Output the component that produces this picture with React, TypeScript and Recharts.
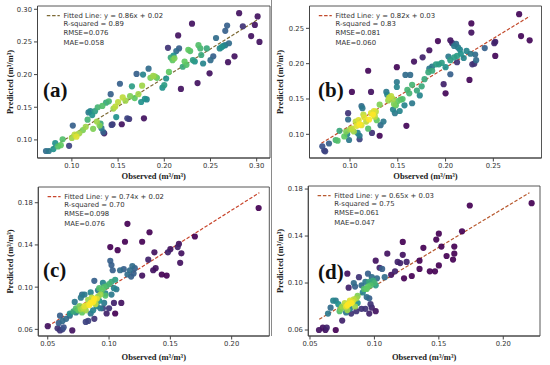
import React from 'react'
import { ScatterChart, Scatter, XAxis, YAxis, ReferenceLine, ReferenceArea, Customized } from 'recharts'

// [observed, predicted, point density 0..1]
type Pt = [number, number, number]

const pointsA: Pt[] = [
	[0.072, 0.083, 0.35], [0.075, 0.083, 0.4], [0.08, 0.086, 0.5], [0.082, 0.095, 0.5], [0.085, 0.09, 0.7],
	[0.088, 0.092, 0.75], [0.09, 0.101, 0.7], [0.097, 0.091, 0.2], [0.1, 0.103, 0.85], [0.101, 0.122, 0.3],
	[0.103, 0.108, 0.9], [0.105, 0.105, 0.95], [0.108, 0.11, 0.85], [0.112, 0.115, 0.8], [0.115, 0.12, 0.85],
	[0.117, 0.131, 0.65], [0.118, 0.142, 0.4], [0.12, 0.144, 0.45], [0.122, 0.138, 0.5], [0.123, 0.117, 0.8],
	[0.125, 0.144, 0.55], [0.127, 0.128, 0.85], [0.128, 0.15, 0.65], [0.13, 0.122, 0.8], [0.131, 0.125, 0.6],
	[0.132, 0.118, 0.4], [0.133, 0.152, 0.7], [0.134, 0.112, 0.3], [0.135, 0.11, 0.1], [0.137, 0.157, 0.6],
	[0.14, 0.159, 0.65], [0.142, 0.17, 0.3], [0.143, 0.123, 0.2], [0.144, 0.124, 0.15], [0.145, 0.148, 0.85],
	[0.147, 0.151, 0.9], [0.148, 0.135, 0.5], [0.15, 0.158, 0.9], [0.152, 0.186, 0.3], [0.154, 0.124, 0.05],
	[0.155, 0.165, 0.9], [0.158, 0.16, 0.85], [0.16, 0.133, 0.2], [0.162, 0.132, 0.15], [0.163, 0.167, 0.8],
	[0.165, 0.182, 0.55], [0.168, 0.164, 0.75], [0.17, 0.201, 0.3], [0.172, 0.17, 0.85], [0.175, 0.158, 0.5],
	[0.176, 0.183, 0.85], [0.177, 0.2, 0.45], [0.178, 0.133, 0.05], [0.179, 0.163, 0.5], [0.181, 0.162, 0.45],
	[0.183, 0.209, 0.35], [0.185, 0.195, 0.8], [0.188, 0.198, 0.85], [0.19, 0.197, 0.8], [0.192, 0.195, 0.75],
	[0.198, 0.18, 0.5], [0.2, 0.184, 0.55], [0.202, 0.194, 0.5], [0.204, 0.241, 0.15], [0.205, 0.204, 0.75],
	[0.207, 0.226, 0.6], [0.209, 0.222, 0.75], [0.21, 0.229, 0.5], [0.211, 0.225, 0.8], [0.213, 0.236, 0.35],
	[0.215, 0.26, 0.05], [0.216, 0.24, 0.3], [0.218, 0.178, 0.05], [0.22, 0.212, 0.6], [0.222, 0.22, 0.75],
	[0.224, 0.215, 0.7], [0.226, 0.238, 0.75], [0.228, 0.236, 0.7], [0.23, 0.278, 0.05], [0.231, 0.222, 0.55],
	[0.233, 0.22, 0.5], [0.236, 0.187, 0.05], [0.237, 0.245, 0.7], [0.239, 0.24, 0.65], [0.24, 0.23, 0.6],
	[0.242, 0.217, 0.45], [0.246, 0.24, 0.6], [0.249, 0.202, 0.05], [0.25, 0.222, 0.35], [0.253, 0.228, 0.3],
	[0.256, 0.256, 0.35], [0.26, 0.24, 0.45], [0.262, 0.242, 0.5], [0.264, 0.244, 0.45], [0.266, 0.245, 0.4],
	[0.266, 0.267, 0.3], [0.268, 0.275, 0.3], [0.269, 0.219, 0.05], [0.27, 0.248, 0.35], [0.276, 0.228, 0.05],
	[0.281, 0.294, 0.05], [0.285, 0.274, 0.15], [0.294, 0.259, 0.05], [0.298, 0.276, 0.05], [0.301, 0.289, 0.05],
	[0.303, 0.25, 0.05],
]

const pointsB: Pt[] = [
	[0.277, 0.27, 0.02], [0.279, 0.239, 0.02], [0.288, 0.233, 0.02], [0.227, 0.257, 0.02], [0.227, 0.244, 0.05],
	[0.252, 0.231, 0.1], [0.251, 0.229, 0.1], [0.252, 0.211, 0.02], [0.225, 0.177, 0.02], [0.205, 0.233, 0.05],
	[0.207, 0.229, 0.1], [0.192, 0.232, 0.02], [0.183, 0.219, 0.05], [0.167, 0.203, 0.05], [0.149, 0.195, 0.02],
	[0.119, 0.19, 0.02], [0.102, 0.16, 0.02], [0.122, 0.16, 0.05], [0.131, 0.098, 0.02], [0.159, 0.112, 0.02],
	[0.2, 0.158, 0.02], [0.198, 0.171, 0.1], [0.23, 0.2, 0.15], [0.228, 0.199, 0.15], [0.212, 0.202, 0.15],
	[0.176, 0.209, 0.1], [0.098, 0.13, 0.15], [0.123, 0.102, 0.15], [0.11, 0.093, 0.2], [0.073, 0.077, 0.2],
	[0.071, 0.083, 0.25], [0.074, 0.076, 0.2], [0.078, 0.087, 0.3],
	[0.241, 0.222, 0.3], [0.232, 0.205, 0.35], [0.231, 0.213, 0.35], [0.226, 0.214, 0.4], [0.222, 0.218, 0.45],
	[0.215, 0.22, 0.45], [0.213, 0.223, 0.4], [0.211, 0.228, 0.35], [0.209, 0.225, 0.4], [0.203, 0.21, 0.4],
	[0.205, 0.185, 0.3], [0.186, 0.196, 0.4], [0.183, 0.193, 0.4], [0.163, 0.184, 0.35], [0.158, 0.184, 0.35],
	[0.149, 0.174, 0.4], [0.149, 0.167, 0.45], [0.145, 0.135, 0.45], [0.147, 0.13, 0.4], [0.152, 0.133, 0.45],
	[0.157, 0.141, 0.45], [0.165, 0.144, 0.4], [0.135, 0.118, 0.4], [0.132, 0.113, 0.35], [0.11, 0.098, 0.4],
	[0.108, 0.102, 0.45], [0.112, 0.14, 0.35], [0.113, 0.137, 0.4], [0.098, 0.121, 0.35], [0.099, 0.092, 0.4],
	[0.097, 0.1, 0.45], [0.138, 0.16, 0.4], [0.139, 0.156, 0.45], [0.173, 0.155, 0.45],
	[0.085, 0.092, 0.65], [0.087, 0.091, 0.7], [0.089, 0.105, 0.6], [0.094, 0.097, 0.75], [0.096, 0.104, 0.8],
	[0.1, 0.107, 0.85], [0.102, 0.108, 0.9], [0.104, 0.104, 0.85], [0.106, 0.118, 0.9], [0.107, 0.112, 0.95],
	[0.109, 0.12, 0.95], [0.11, 0.114, 1], [0.112, 0.113, 0.95], [0.114, 0.128, 0.9], [0.115, 0.124, 0.95],
	[0.117, 0.118, 0.9], [0.119, 0.108, 0.7], [0.12, 0.121, 1], [0.122, 0.13, 0.95], [0.124, 0.128, 1],
	[0.125, 0.133, 0.95], [0.126, 0.125, 0.9], [0.127, 0.132, 0.9], [0.128, 0.12, 0.75], [0.131, 0.142, 0.8],
	[0.14, 0.148, 0.85], [0.141, 0.152, 0.9], [0.143, 0.154, 0.9], [0.145, 0.15, 0.85], [0.146, 0.143, 0.8],
	[0.148, 0.141, 0.75], [0.15, 0.147, 0.75], [0.153, 0.149, 0.7], [0.155, 0.15, 0.7], [0.16, 0.163, 0.65],
	[0.162, 0.158, 0.65], [0.165, 0.17, 0.65], [0.17, 0.162, 0.6], [0.175, 0.168, 0.6], [0.178, 0.178, 0.6],
	[0.182, 0.188, 0.6], [0.186, 0.19, 0.6], [0.19, 0.199, 0.55], [0.193, 0.199, 0.55], [0.196, 0.201, 0.55],
	[0.2, 0.195, 0.5], [0.205, 0.205, 0.55], [0.209, 0.209, 0.55], [0.212, 0.211, 0.55], [0.216, 0.214, 0.5],
	[0.219, 0.208, 0.45],
]

const pointsC: Pt[] = [
	[0.222, 0.175, 0], [0.17, 0.148, 0], [0.158, 0.123, 0.05], [0.159, 0.132, 0.05], [0.157, 0.141, 0.05],
	[0.156, 0.138, 0.1], [0.15, 0.136, 0.05], [0.148, 0.133, 0.1], [0.147, 0.111, 0], [0.143, 0.112, 0],
	[0.138, 0.118, 0.05], [0.136, 0.116, 0.05], [0.133, 0.152, 0], [0.132, 0.126, 0.1], [0.137, 0.133, 0.05],
	[0.127, 0.143, 0], [0.127, 0.111, 0.05], [0.115, 0.16, 0], [0.113, 0.143, 0], [0.107, 0.135, 0],
	[0.101, 0.138, 0], [0.105, 0.075, 0], [0.11, 0.085, 0.05], [0.104, 0.085, 0.1], [0.1, 0.08, 0.15],
	[0.098, 0.075, 0.1], [0.095, 0.08, 0.2], [0.088, 0.07, 0.15], [0.083, 0.068, 0.2], [0.081, 0.067, 0.2],
	[0.07, 0.059, 0.05], [0.05, 0.063, 0.05], [0.058, 0.061, 0.15], [0.06, 0.059, 0.15], [0.062, 0.06, 0.2],
	[0.063, 0.062, 0.25], [0.059, 0.066, 0.3], [0.06, 0.073, 0.3], [0.062, 0.068, 0.35], [0.065, 0.07, 0.35],
	[0.119, 0.12, 0.35], [0.117, 0.116, 0.35], [0.118, 0.11, 0.3], [0.112, 0.117, 0.3], [0.115, 0.112, 0.35],
	[0.109, 0.116, 0.35], [0.103, 0.116, 0.3], [0.101, 0.125, 0.3], [0.102, 0.121, 0.3], [0.12, 0.113, 0.3],
	[0.121, 0.118, 0.3], [0.106, 0.098, 0.4], [0.104, 0.099, 0.45], [0.102, 0.093, 0.4], [0.097, 0.094, 0.45],
	[0.095, 0.104, 0.45], [0.091, 0.097, 0.4], [0.088, 0.106, 0.3], [0.085, 0.095, 0.45], [0.078, 0.093, 0.35],
	[0.077, 0.09, 0.4], [0.08, 0.093, 0.4], [0.072, 0.086, 0.4], [0.096, 0.085, 0.4], [0.092, 0.087, 0.5],
	[0.093, 0.08, 0.4], [0.09, 0.082, 0.45], [0.087, 0.078, 0.45], [0.085, 0.075, 0.4], [0.073, 0.076, 0.4],
	[0.068, 0.073, 0.35],
	[0.105, 0.107, 0.55], [0.102, 0.105, 0.6], [0.1, 0.103, 0.65], [0.098, 0.101, 0.65], [0.096, 0.1, 0.7],
	[0.094, 0.097, 0.75], [0.093, 0.093, 0.85], [0.091, 0.091, 0.85], [0.09, 0.089, 0.95], [0.088, 0.089, 1],
	[0.087, 0.086, 1], [0.085, 0.085, 1], [0.084, 0.083, 1], [0.082, 0.083, 0.95], [0.08, 0.082, 0.95],
	[0.079, 0.08, 0.9], [0.077, 0.079, 0.85], [0.076, 0.082, 0.8], [0.075, 0.078, 0.75], [0.073, 0.08, 0.7],
	[0.071, 0.077, 0.6], [0.068, 0.075, 0.5], [0.083, 0.088, 0.85], [0.086, 0.09, 0.9], [0.089, 0.084, 0.9],
	[0.081, 0.078, 0.85], [0.078, 0.076, 0.75], [0.092, 0.099, 0.7], [0.097, 0.092, 0.7],
]

const pointsD: Pt[] = [
	[0.222, 0.168, 0], [0.174, 0.166, 0], [0.168, 0.144, 0], [0.162, 0.131, 0], [0.162, 0.125, 0],
	[0.161, 0.12, 0], [0.156, 0.123, 0], [0.152, 0.131, 0], [0.15, 0.142, 0], [0.148, 0.137, 0],
	[0.15, 0.115, 0], [0.147, 0.11, 0], [0.143, 0.11, 0], [0.138, 0.13, 0], [0.135, 0.119, 0],
	[0.135, 0.112, 0], [0.129, 0.106, 0], [0.123, 0.104, 0], [0.122, 0.135, 0], [0.122, 0.124, 0.05],
	[0.125, 0.118, 0.1], [0.12, 0.117, 0.1], [0.118, 0.118, 0.1], [0.116, 0.11, 0.1], [0.113, 0.107, 0.05],
	[0.11, 0.125, 0.05], [0.104, 0.113, 0.1], [0.101, 0.119, 0.05], [0.101, 0.076, 0.05], [0.098, 0.079, 0.1],
	[0.097, 0.082, 0.15], [0.096, 0.074, 0.1], [0.093, 0.078, 0.15], [0.09, 0.078, 0.15], [0.086, 0.076, 0.15],
	[0.079, 0.108, 0.05], [0.082, 0.074, 0.15], [0.075, 0.068, 0.1], [0.07, 0.06, 0], [0.062, 0.06, 0.05],
	[0.063, 0.062, 0.1], [0.06, 0.062, 0.05], [0.057, 0.06, 0.05], [0.08, 0.096, 0.1], [0.088, 0.105, 0.15],
	[0.095, 0.108, 0.3], [0.098, 0.105, 0.35], [0.102, 0.104, 0.35], [0.097, 0.1, 0.4], [0.093, 0.101, 0.4],
	[0.09, 0.098, 0.35], [0.084, 0.1, 0.35], [0.085, 0.097, 0.3], [0.091, 0.092, 0.45], [0.094, 0.088, 0.35],
	[0.096, 0.087, 0.3], [0.087, 0.083, 0.5], [0.076, 0.08, 0.45], [0.07, 0.085, 0.4], [0.068, 0.085, 0.45],
	[0.066, 0.079, 0.35], [0.064, 0.074, 0.4], [0.072, 0.082, 0.5], [0.078, 0.075, 0.4], [0.081, 0.078, 0.45],
	[0.108, 0.105, 0.35], [0.106, 0.112, 0.3],
	[0.099, 0.102, 0.6], [0.1, 0.1, 0.65], [0.097, 0.098, 0.7], [0.095, 0.097, 0.75], [0.094, 0.095, 0.75],
	[0.092, 0.095, 0.7], [0.096, 0.101, 0.6], [0.101, 0.098, 0.55], [0.087, 0.089, 0.8], [0.086, 0.087, 0.85],
	[0.084, 0.086, 0.9], [0.083, 0.084, 0.95], [0.082, 0.083, 1], [0.08, 0.082, 1], [0.079, 0.081, 1],
	[0.078, 0.08, 0.95], [0.081, 0.085, 0.95], [0.077, 0.083, 0.9], [0.075, 0.08, 0.85], [0.074, 0.078, 0.8],
	[0.073, 0.076, 0.7], [0.085, 0.08, 0.85], [0.079, 0.077, 0.85],
]

// fitted line end points, [observed start, observed end] / [predicted start, predicted end]
const fitXA = [0.073, 0.302]
const fitYA = [0.0835, 0.285]
const fitXB = [0.07, 0.288]
const fitYB = [0.0874, 0.267]
const fitXC = [0.05, 0.2226]
const fitYC = [0.0628, 0.1895]
const fitXD = [0.0572, 0.2203]
const fitYD = [0.0691, 0.1769]

const statsA = ['Fitted Line: y = 0.86x + 0.02', 'R-squared = 0.89', 'RMSE=0.076', 'MAE=0.058']
const statsB = ['Fitted Line: y = 0.82x + 0.03', 'R-squared = 0.83', 'RMSE=0.081', 'MAE=0.060']
const statsC = ['Fitted Line: y = 0.74x + 0.02', 'R-squared = 0.70', 'RMSE=0.098', 'MAE=0.076']
const statsD = ['Fitted Line: y = 0.65x + 0.03', 'R-squared = 0.75', 'RMSE=0.061', 'MAE=0.047']

const ticksA = [0.1, 0.15, 0.2, 0.25, 0.3]
const ticksBx = [0.1, 0.15, 0.2, 0.25]
const ticksBy = [0.1, 0.15, 0.2, 0.25]
const ticksCDx = [0.05, 0.1, 0.15, 0.2]
const ticksCDy = [0.06, 0.1, 0.14, 0.18]

const VIRIDIS = ['#440154', '#3b528b', '#21918c', '#5ec962', '#fde725']
const hex = (h: string) => [1, 3, 5].map(i => parseInt(h.slice(i, i + 2), 16))
function viridis(t: number) {
	const s = Math.max(0, Math.min(1, t)) * 4
	const i = Math.min(3, Math.floor(s))
	const f = s - i
	const a = hex(VIRIDIS[i])
	const b = hex(VIRIDIS[i + 1])
	return `rgb(${a.map((v, k) => Math.round(v + (b[k] - v) * f)).join(',')})`
}

const SANS = 'DejaVu Sans'
const SERIF = 'Liberation Serif'
const AXIS = '#444'
const fmt = (v: number) => v.toFixed(2)

const panels = [
	{ key: 'a', letter: '(a)', points: pointsA, fitX: fitXA, fitY: fitYA, stats: statsA, xTicks: ticksA, yTicks: ticksA,
		xDomain: [0.0628, 0.3144], yDomain: [0.0723, 0.305], fitColor: '#7d6a35',
		left: 0, top: 0, width: 275, height: 182, yW: 37.5, mTop: 6, mRight: 5, xH: 24, xTitleY: 176, letterX: 43, letterY: 90 },
	{ key: 'b', letter: '(b)', points: pointsB, fitX: fitXB, fitY: fitYB, stats: statsB, xTicks: ticksBx, yTicks: ticksBy,
		xDomain: [0.0576, 0.3004], yDomain: [0.0665, 0.2816], fitColor: '#c24a2c',
		left: 270, top: 0, width: 280, height: 182, yW: 39.5, mTop: 6, mRight: 8.5, xH: 24, xTitleY: 176, letterX: 48, letterY: 90 },
	{ key: 'c', letter: '(c)', points: pointsC, fitX: fitXC, fitY: fitYC, stats: statsC, xTicks: ticksCDx, yTicks: ticksCDy,
		xDomain: [0.0423, 0.2307], yDomain: [0.0537, 0.1949], fitColor: '#c8462d',
		left: 0, top: 182, width: 275, height: 183, yW: 38.3, mTop: 5, mRight: 5.7, xH: 29, xTitleY: 175.3, letterX: 43, letterY: 88 },
	{ key: 'd', letter: '(d)', points: pointsD, fitX: fitXD, fitY: fitYD, stats: statsD, xTicks: ticksCDx, yTicks: ticksCDy,
		xDomain: [0.0487, 0.2285], yDomain: [0.0549, 0.1826], fitColor: '#b85a30',
		left: 270, top: 182, width: 280, height: 183, yW: 38.3, mTop: 4, mRight: 10, xH: 29, xTitleY: 175.3, letterX: 48, letterY: 90 },
]

type PanelCfg = (typeof panels)[number]

const Dot = (p: any) => {
	if (p.cx == null || p.cy == null) return null
	return <circle cx={p.cx} cy={p.cy} r={3.1} fill={viridis(p.payload.d)} fillOpacity={0.92} />
}

function Annotations({ cfg }: { cfg: PanelCfg }) {
	const pl = cfg.yW
	const pt = cfg.mTop
	const pr = cfg.width - cfg.mRight
	const pb = cfg.height - cfg.xH
	const lx = pl + 9.3
	const ly = pt + 9.7
	const rows = [0, 8.3, 17.5, 27]
	return (
		<g>
			<line x1={lx} x2={lx + 13} y1={ly} y2={ly} stroke={cfg.fitColor} strokeWidth={1.2} strokeDasharray="3.5 1.8" />
			{cfg.stats.map((s, i) => (
				<text key={i} x={pl + 26} y={ly + rows[i]} dominantBaseline="central" fontFamily={SANS} fontSize={6.9} fill="#333">
					{s}
				</text>
			))}
			<text x={cfg.letterX} y={cfg.letterY} dominantBaseline="central" fontFamily={SERIF} fontWeight="bold" fontSize={21} fill="#111">
				{cfg.letter}
			</text>
			<text x={(pl + pr) / 2} y={cfg.xTitleY} textAnchor="middle" dominantBaseline="central" fontFamily={SERIF} fontWeight="bold" fontSize={8.5} fill="#222">
				Observed (m³/m³)
			</text>
			<text x={10} y={(pt + pb) / 2} transform={`rotate(-90 10 ${(pt + pb) / 2})`} textAnchor="middle" dominantBaseline="central" fontFamily={SERIF} fontWeight="bold" fontSize={8.5} fill="#222">
				Predicted (m³/m³)
			</text>
		</g>
	)
}

function Panel({ cfg }: { cfg: PanelCfg }) {
	const rows = cfg.points.map(([o, p, d]) => ({ o, p, d })).sort((a, b) => a.d - b.d)
	const tick = { fill: '#333', fontSize: 6.8, fontFamily: SANS }
	return (
		<div style={{ position: 'absolute', left: cfg.left, top: cfg.top }}>
			<ScatterChart width={cfg.width} height={cfg.height} margin={{ top: cfg.mTop, right: cfg.mRight, left: 0, bottom: 0 }}>
				<XAxis type="number" dataKey="o" domain={cfg.xDomain} ticks={cfg.xTicks} tickFormatter={fmt} allowDataOverflow
					height={cfg.xH} tickSize={3.5} tickMargin={2} stroke={AXIS} tick={tick} interval={0} />
				<YAxis type="number" dataKey="p" domain={cfg.yDomain} ticks={cfg.yTicks} tickFormatter={fmt} allowDataOverflow
					width={cfg.yW} tickSize={3.5} tickMargin={2} stroke={AXIS} tick={tick} interval={0} />
				<Scatter data={rows} isAnimationActive={false} shape={Dot} />
				<ReferenceLine segment={[{ x: cfg.fitX[0], y: cfg.fitY[0] }, { x: cfg.fitX[1], y: cfg.fitY[1] }]}
					stroke={cfg.fitColor} strokeWidth={1.2} strokeDasharray="3.5 1.8" />
				<ReferenceArea x1={cfg.xDomain[0]} x2={cfg.xDomain[1]} y1={cfg.yDomain[0]} y2={cfg.yDomain[1]}
					fill="none" fillOpacity={0} stroke={AXIS} strokeWidth={0.9} />
				<Customized component={<Annotations cfg={cfg} />} />
			</ScatterChart>
		</div>
	)
}

export default function App() {
	return (
		<div style={{ position: 'absolute', left: 0, top: 0, width: 550, height: 365, background: '#fff' }}>
			{panels.map(cfg => <Panel key={cfg.key} cfg={cfg} />)}
			<div style={{ position: 'absolute', left: 271, top: 0, width: 1, height: 336, background: '#8a8a8a' }} />
		</div>
	)
}
